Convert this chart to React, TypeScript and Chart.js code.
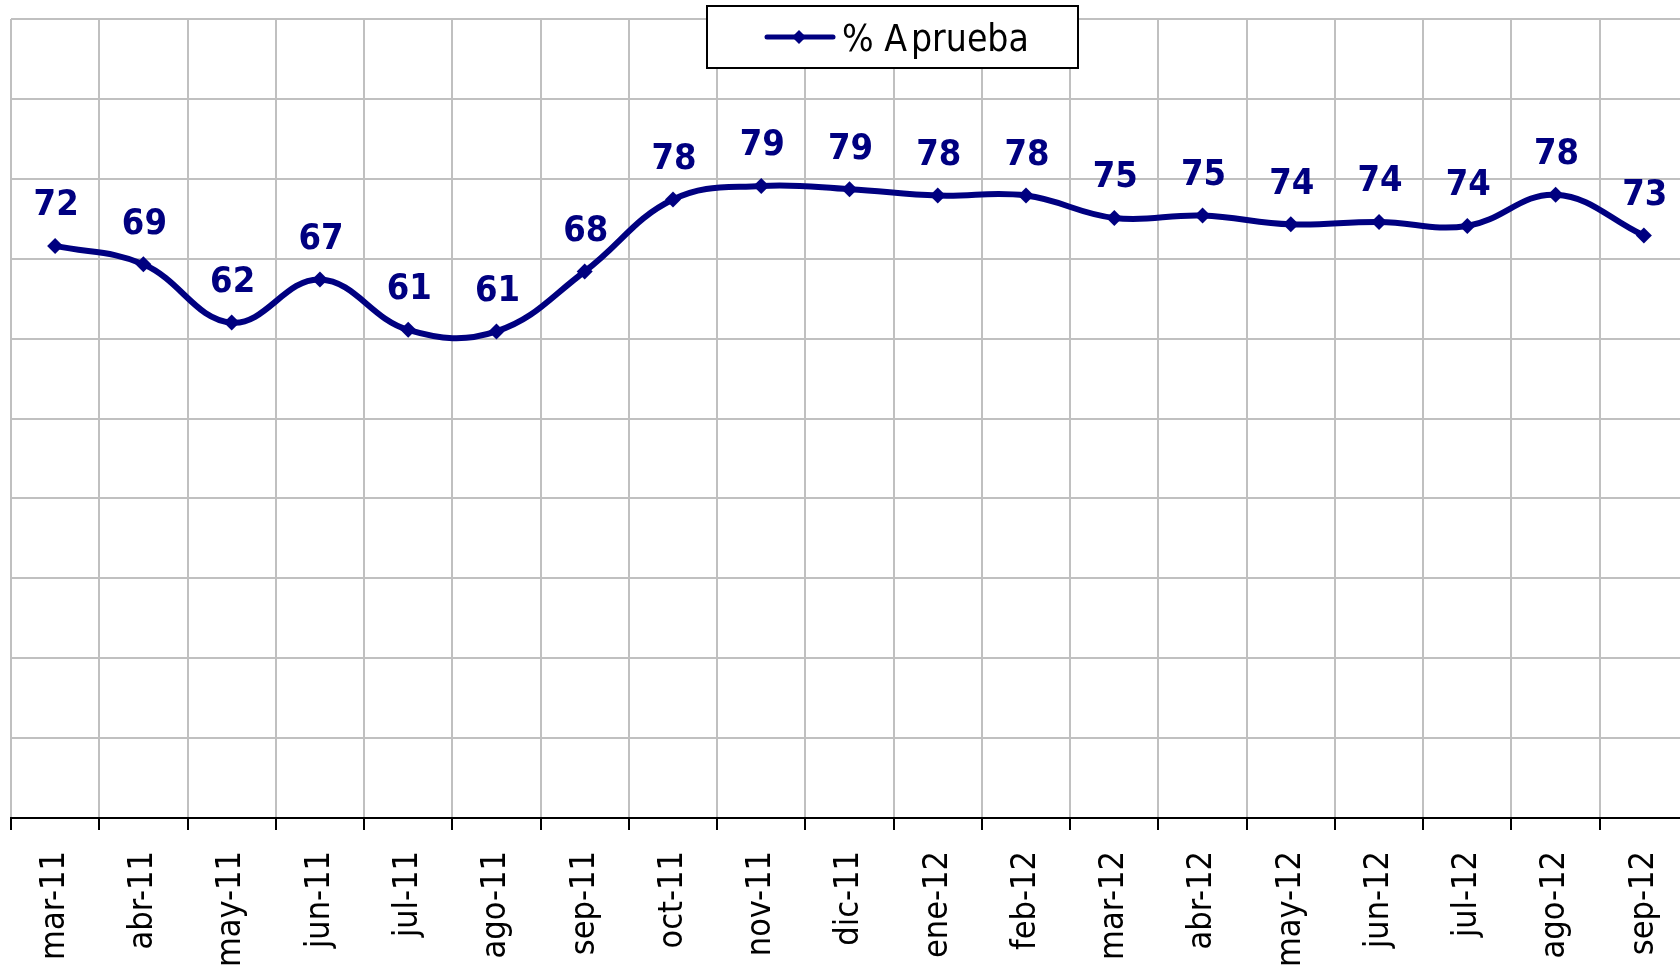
import React, { useEffect, useRef } from "react";
import { Chart, registerables } from "chart.js";

Chart.register(...registerables);

const categories = [
  "mar-11", "abr-11", "may-11", "jun-11", "jul-11", "ago-11", "sep-11", "oct-11",
  "nov-11", "dic-11", "ene-12", "feb-12", "mar-12", "abr-12", "may-12", "jun-12",
  "jul-12", "ago-12", "sep-12",
];

const approvalValues = [
  71.6, 69.3, 62.0, 67.4, 61.1, 60.9, 68.4, 77.4, 79.1, 78.7, 77.9, 77.9, 75.1, 75.4,
  74.3, 74.6, 74.1, 78.0, 72.9,
];

const approvalLabels = [
  "72", "69", "62", "67", "61", "61", "68", "78", "79", "79", "78", "78", "75", "75",
  "74", "74", "74", "78", "73",
];

const seriesName = "% Aprueba";
const yMin = 0;
const yMax = 100;
const yStep = 10;

const NAVY = "#000080";
const GRID = "#c0c0c0";
const FONT = '"DejaVu Sans Condensed", "DejaVu Sans", sans-serif';

const dataLabelPlugin = {
  id: "dataLabels",
  afterDatasetsDraw(chart: any) {
    const ctx = chart.ctx;
    const meta = chart.getDatasetMeta(0);
    ctx.save();
    ctx.fillStyle = NAVY;
    ctx.font = `bold 36px ${FONT}`;
    ctx.textAlign = "center";
    ctx.textBaseline = "middle";
    meta.data.forEach((pt: any, i: number) => {
      ctx.fillText(approvalLabels[i], pt.x + 1, pt.y - 40);
    });
    ctx.restore();
  },
};

const boxLegendPlugin = {
  id: "boxLegend",
  afterDraw(chart: any) {
    const ctx = chart.ctx;
    const left = 707;
    const top = 6;
    const w = 371;
    const h = 62;
    const cy = top + h / 2;
    ctx.save();
    ctx.fillStyle = "#ffffff";
    ctx.fillRect(left, top, w, h);
    ctx.strokeStyle = "#000000";
    ctx.lineWidth = 2;
    ctx.strokeRect(left, top, w, h);
    ctx.strokeStyle = NAVY;
    ctx.lineWidth = 5;
    ctx.lineCap = "round";
    ctx.beginPath();
    ctx.moveTo(left + 60, cy);
    ctx.lineTo(left + 126, cy);
    ctx.stroke();
    ctx.fillStyle = NAVY;
    const dx = left + 92;
    ctx.beginPath();
    ctx.moveTo(dx, cy - 7);
    ctx.lineTo(dx + 7, cy);
    ctx.lineTo(dx, cy + 7);
    ctx.lineTo(dx - 7, cy);
    ctx.closePath();
    ctx.fill();
    ctx.fillStyle = "#000000";
    ctx.font = `37px ${FONT}`;
    ctx.textAlign = "left";
    ctx.textBaseline = "middle";
    const label: string = chart.data.datasets[0].label;
    const first = label.slice(0, 3);
    const rest = label.slice(3);
    ctx.fillText(first, left + 135, cy + 4);
    const wFirst = ctx.measureText(first).width;
    ctx.fillText(rest, left + 135 + wFirst + 4, cy + 4);
    ctx.restore();
  },
};

export default function App() {
  const ref = useRef<HTMLCanvasElement | null>(null);

  useEffect(() => {
    if (!ref.current) return;
    const chart = new Chart(ref.current, {
      type: "line",
      data: {
        labels: categories,
        datasets: [
          {
            label: seriesName,
            data: approvalValues,
            borderColor: NAVY,
            backgroundColor: NAVY,
            borderWidth: 6,
            tension: 0.4,
            pointStyle: "rectRot",
            pointRadius: 8,
            pointBorderWidth: 0,
            pointBackgroundColor: NAVY,
            fill: false,
          },
        ],
      },
      options: {
        responsive: false,
        animation: false,
        devicePixelRatio: 1,
        layout: { padding: { left: 11, right: 12, top: 19, bottom: 0 } },
        plugins: {
          legend: { display: false },
          tooltip: { enabled: false },
        },
        scales: {
          x: {
            type: "category",
            offset: true,
            grid: {
              offset: true,
              color: GRID,
              lineWidth: 2,
              drawTicks: true,
              tickLength: 12,
              tickColor: "#000000",
              tickWidth: 2,
            },
            border: { display: true, color: "#000000", width: 2 },
            ticks: {
              color: "#000000",
              font: { family: FONT, size: 34 },
              minRotation: 90,
              maxRotation: 90,
              padding: 21,
              autoSkip: false,
            },
            afterFit: (scale: any) => {
              scale.height = 148;
              scale.paddingLeft = 0;
              scale.paddingRight = 0;
            },
          },
          y: {
            min: yMin,
            max: yMax,
            ticks: { display: false, stepSize: yStep },
            grid: { color: GRID, lineWidth: 2, drawTicks: false },
            border: { display: false },
            afterFit: (scale: any) => {
              scale.width = 0;
              scale.paddingTop = 0;
              scale.paddingBottom = 0;
            },
          },
        },
      },
      plugins: [dataLabelPlugin, boxLegendPlugin],
    });
    return () => chart.destroy();
  }, []);

  return (
    <div
      style={{
        position: "fixed",
        left: 0,
        top: 0,
        width: 1680,
        height: 966,
        overflow: "hidden",
        background: "#ffffff",
      }}
    >
      <div style={{ width: 1700, height: 966 }}>
        <canvas ref={ref} width={1700} height={966} style={{ display: "block", width: 1700, height: 966 }} />
      </div>
    </div>
  );
}
